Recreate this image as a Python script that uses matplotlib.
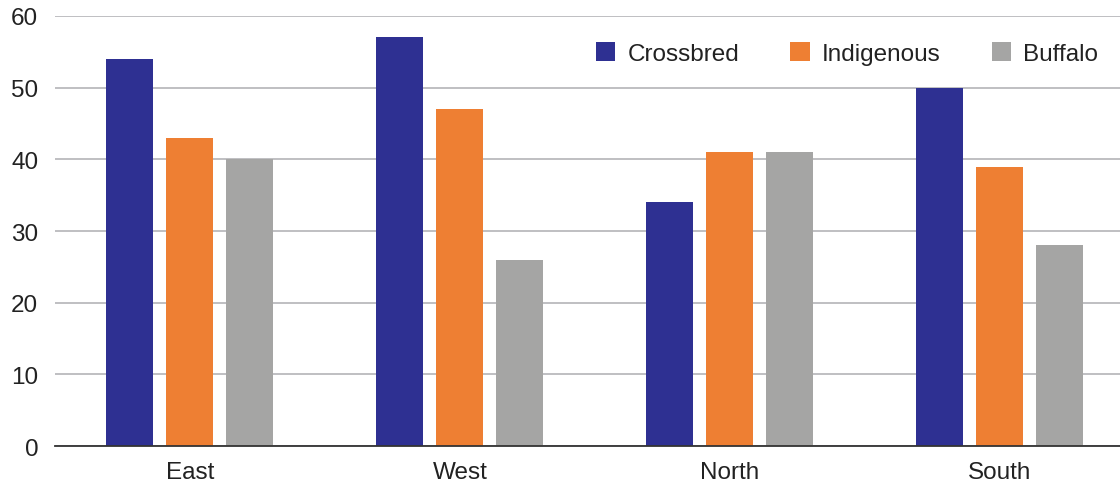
import matplotlib.pyplot as plt
import numpy as np

plt.rcParams.update({
    'font.family': ['Liberation Sans', 'DejaVu Sans'],
    'font.size': 17.5,
    'text.color': '#222222',
    'xtick.color': '#222222',
    'ytick.color': '#222222',
})

regions = ['East', 'West', 'North', 'South']
crossbred = [54, 57, 34, 50]
indigenous = [43, 47, 41, 39]
buffalo = [40, 26, 41, 28]

series = [
    ('Crossbred', crossbred, '#2E3092'),
    ('Indigenous', indigenous, '#EE7F33'),
    ('Buffalo', buffalo, '#A5A5A4'),
]

fig = plt.figure(figsize=(11.2, 4.85), dpi=100)
ax = fig.add_axes([0.049, 0.078, 0.951, 0.887])

x = np.arange(len(regions))
width = 0.174
step = 0.222
for i, (name, vals, color) in enumerate(series):
    ax.bar(x + (i - 1) * step, vals, width, color=color, label=name, zorder=3)

ax.set_xlim(-0.5, 3.445)
ax.set_ylim(0, 60)
ax.set_yticks(np.arange(0, 61, 10))
ax.set_xticks(x)
ax.set_xticklabels(regions)
ax.yaxis.grid(True, color='#B4B4B8', linewidth=1.2, zorder=0)

for side in ['top', 'right', 'left']:
    ax.spines[side].set_visible(False)
ax.spines['bottom'].set_color('#333333')
ax.spines['bottom'].set_linewidth(1.3)
ax.spines['bottom'].set_zorder(4)
ax.tick_params(axis='both', length=0)
ax.tick_params(axis='y', pad=12)
ax.tick_params(axis='x', pad=11)

fig.legend(loc='center right', bbox_to_anchor=(1.0, 0.887), ncol=3,
           frameon=False, handlelength=0.8, handleheight=0.8,
           handletextpad=0.5, columnspacing=2.1, fontsize=17.5)

fig.savefig('out.png', dpi=100)
